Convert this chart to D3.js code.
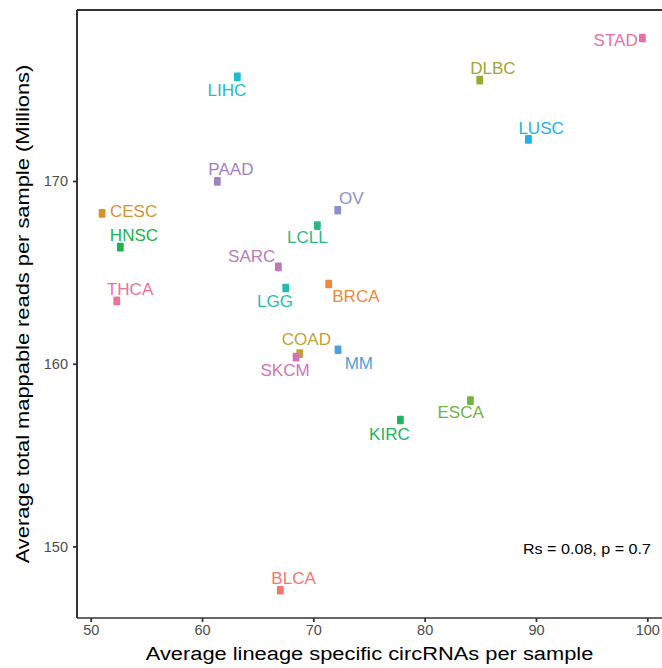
<!DOCTYPE html>
<html><head><meta charset="utf-8">
<script src="https://cdn.jsdelivr.net/npm/d3@7"></script>
<style>body{margin:0;background:#fff}svg{display:block}text{font-family:"Liberation Sans",Arial,sans-serif}</style>
</head><body><svg id="c" width="662" height="668"></svg>
<script>
const cancers = ["BLCA","BRCA","CESC","COAD","DLBC","ESCA","HNSC","KIRC","LCLL","LGG","LIHC","LUSC","MM","OV","PAAD","SARC","SKCM","STAD","THCA"];
const circPerSample = [67.04,71.38,51.02,68.78,84.95,84.11,52.66,77.82,70.36,67.52,63.17,89.32,72.22,72.19,61.38,66.86,68.45,99.56,52.34];
const readsMillions = [147.60,164.36,168.23,160.55,175.52,157.98,166.38,156.92,167.56,164.14,175.70,172.28,160.76,168.40,169.98,165.30,160.36,177.83,163.44];
const colors = ["#F0786F","#EC8A38","#D49330","#C3A136","#9DA733","#72B245","#20B24B","#20B45E","#2BBA86","#20BEB3","#1CBCD4","#1DB2E8","#4AA3DC","#8A90CC","#A283C1","#B97CB8","#D473B3","#E870A8","#EF719A"];
const xTicks = [50,60,70,80,90,100];
const yTicks = [150,160,170];
const annotation = "Rs = 0.08, p = 0.7";
// label placement offsets (text centre / baseline relative to point)
const labelDx = [13.2,27.2,31.5,6.6,13.1,-9.8,13.7,-11,-10,-10.7,-10.3,12.7,20.8,13.6,13.5,-26.7,-11,-26.8,13.3];
const labelDy = [-6.3,17.7,3.4,-9,-6,17.7,-6.6,19.7,17.6,19,19,-5.3,18.7,-6,-6.6,-5.3,19,8,-6.3];

const svg = d3.select("#c");
const L = 77, R = 662, T = 10, B = 618;
const x = d3.scaleLinear().domain([50,100]).range([90.7,647.3]);
const y = d3.scaleLinear().domain([150,170]).range([546.4,181]);

svg.append("line").attr("x1",L).attr("x2",R).attr("y1",T).attr("y2",T).attr("stroke","#333").attr("stroke-width",2);

const xAxis = svg.append("g").attr("transform",`translate(0,${B})`)
  .call(d3.axisBottom(x).tickValues(xTicks).tickSize(4).tickPadding(3).tickFormat(d3.format("d")));
xAxis.select(".domain").remove();
xAxis.append("line").attr("x1",L).attr("x2",R).attr("stroke","#333").attr("stroke-width",1.6);
xAxis.selectAll(".tick line").attr("stroke","#333").attr("stroke-width",1.8);
xAxis.selectAll(".tick text").attr("fill","#4D4D4D").attr("font-size","14.5px");

const yAxis = svg.append("g").attr("transform",`translate(${L},0)`)
  .call(d3.axisLeft(y).tickValues(yTicks).tickSize(4).tickPadding(5).tickFormat(d3.format("d")));
yAxis.select(".domain").remove();
yAxis.append("line").attr("y1",T).attr("y2",B).attr("stroke","#333").attr("stroke-width",2);
yAxis.selectAll(".tick line").attr("stroke","#333").attr("stroke-width",1.8);
yAxis.selectAll(".tick text").attr("fill","#4D4D4D").attr("font-size","14.5px");

const data = cancers.map((c,i)=>({c, x:circPerSample[i], y:readsMillions[i], col:colors[i], dx:labelDx[i], dy:labelDy[i]}));

svg.append("g").selectAll("rect").data(data).join("rect")
  .attr("x",d=>x(d.x)-3.4).attr("y",d=>y(d.y)-4.3)
  .attr("width",6.8).attr("height",8.6).attr("rx",1)
  .attr("fill",d=>d.col);

svg.append("g").selectAll("text").data(data).join("text")
  .attr("transform",d=>`translate(${x(d.x)+d.dx},${y(d.y)+d.dy}) scale(1.04,1)`)
  .attr("text-anchor","middle").attr("font-size","16.4px")
  .attr("fill",d=>d.col).text(d=>d.c);

svg.append("text").attr("transform","translate(651,553.5) scale(1.06,1)").attr("text-anchor","end")
  .attr("font-size","15.2px").attr("fill","#000").text(annotation);

svg.append("text").attr("transform",`translate(${(L+R)/2},660) scale(1.15,1)`).attr("text-anchor","middle")
  .attr("font-size","19px").attr("fill","#000").text("Average lineage specific circRNAs per sample");
svg.append("text").attr("transform",`translate(28.5,${(T+B)/2}) rotate(-90) scale(1.15,1)`).attr("text-anchor","middle")
  .attr("font-size","19px").attr("fill","#000").text("Average total mappable reads per sample (Millions)");
</script></body></html>
